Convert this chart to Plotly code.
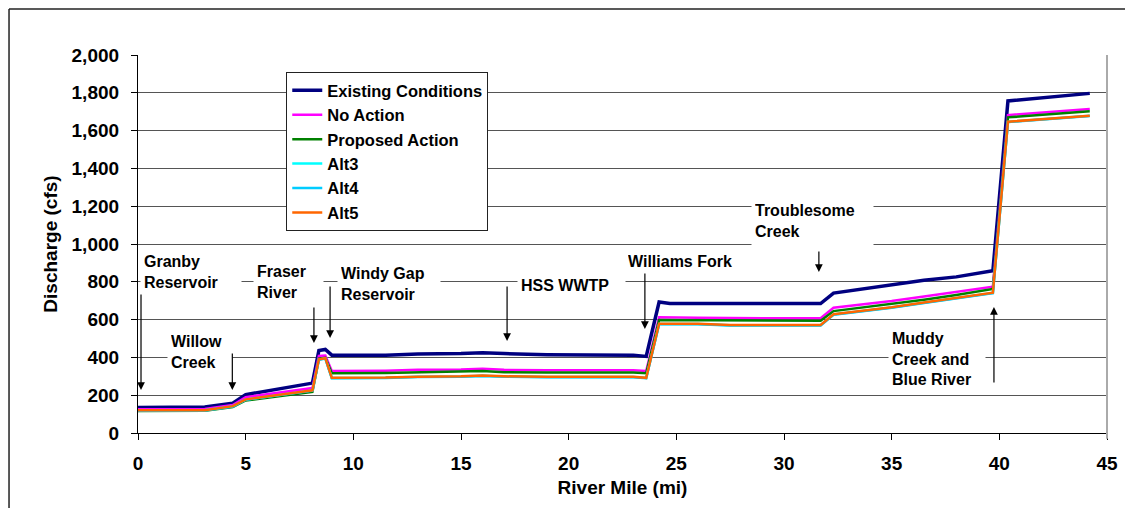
import plotly.graph_objects as go

# river mile stations
miles = [0, 3.1, 4.4, 5.0, 8.1, 8.4, 8.7, 9.0, 11.5, 13, 15, 16, 17, 19, 23, 23.6,
         24.2, 24.7, 26, 27.5, 31.7, 32.3, 35, 36.5, 38, 39.7, 40.4, 44.2]

existing = [135, 138, 158, 203, 264, 436, 442, 412, 412, 418, 420, 425, 420, 414, 412, 405,
            693, 685, 685, 685, 685, 740, 781, 808, 826, 858, 1757, 1797]
no_action = [126, 127, 148, 189, 238, 408, 410, 328, 330, 335, 336, 340, 334, 332, 332, 328,
             612, 612, 610, 608, 607, 663, 698, 722, 745, 774, 1682, 1714]
proposed = [117, 118, 138, 172, 218, 393, 398, 316, 318, 322, 324, 328, 322, 320, 320, 316,
            598, 598, 594, 594, 594, 645, 681, 705, 730, 762, 1670, 1702]
alt3 = [119, 120, 141, 177, 225, 389, 395, 291, 292, 297, 299, 303, 299, 296, 296, 291,
        577, 577, 577, 570, 570, 627, 664, 689, 714, 741, 1646, 1678]
alt4 = [118, 119, 140, 176, 224, 388, 394, 290, 291, 296, 298, 302, 298, 295, 295, 290,
        576, 576, 576, 569, 569, 626, 663, 688, 713, 740, 1645, 1677]
alt5 = [120, 121, 142, 178, 226, 390, 396, 292, 293, 298, 300, 304, 300, 297, 297, 292,
        578, 578, 578, 571, 571, 628, 665, 690, 715, 742, 1647, 1679]

series = [
    ("Existing Conditions", existing, "#000080", 3.5),
    ("No Action", no_action, "#FF00FF", 2.5),
    ("Proposed Action", proposed, "#008000", 2.5),
    ("Alt3", alt3, "#00FFFF", 2.5),
    ("Alt4", alt4, "#00CCFF", 2.5),
    ("Alt5", alt5, "#FF6600", 2.5),
]

# labels: text, left x, centre y, box width, box height
labels = [
    ("Granby<br>Reservoir", 0.09, 852, 94, 42),
    ("Willow<br>Creek", 1.35, 429, 58, 42),
    ("Fraser<br>River", 5.34, 799, 63, 42),
    ("Windy Gap<br>Reservoir", 9.24, 788, 96, 42),
    ("HSS WWTP", 17.6, 783, 101, 20),
    ("Williams Fork", 22.57, 910, 110, 20),
    ("Troublesome<br>Creek", 28.47, 1122, 115, 44),
    ("Muddy<br>Creek and<br>Blue River", 34.83, 392, 90, 60),
]

# arrows: x, head y, tail y
arrows = [
    (0.14, 227, 741),
    (4.38, 227, 429),
    (8.17, 476, 672),
    (8.92, 503, 783),
    (17.14, 487, 783),
    (23.54, 550, 852),
    (31.62, 852, 968),
    (39.75, 667, 259),
]

FONT = "Liberation Sans, Arial, sans-serif"

fig = go.Figure()
for i, (name, vals, color, w) in enumerate(series):
    fig.add_trace(go.Scatter(x=miles, y=vals, mode="lines", name=name,
                             legendgroup=str(i),
                             line=dict(color=color, width=w)))

for text, x, y, w, h in labels:
    fig.add_annotation(x=x, y=y, text=text, showarrow=False, xanchor="left", yanchor="middle",
                       align="left", width=w, height=h, bgcolor="white", borderpad=3,
                       font=dict(family=FONT, size=16, color="black", weight="bold"))

for x, head, tail in arrows:
    fig.add_annotation(x=x, y=head, ax=x, ay=tail, axref="x", ayref="y", text="",
                       showarrow=True, arrowhead=2, arrowsize=1.3, arrowwidth=1.2,
                       arrowcolor="black", standoff=0, startstandoff=0)

# outer chart frame (only left and top edges are in view) and grey plot-area right edge
fig.add_shape(type="line", xref="paper", yref="paper", x0=-0.1331, x1=-0.1331, y0=1.1217, y1=-0.3,
              line=dict(color="#222222", width=1.5))
fig.add_shape(type="line", xref="paper", yref="paper", x0=-0.1331, x1=1.05, y0=1.1217, y1=1.1217,
              line=dict(color="#222222", width=1.5))
fig.add_shape(type="line", xref="paper", yref="paper", x0=1, x1=1, y0=-0.015, y1=1,
              line=dict(color="#AAAAAA", width=2))

fig.update_layout(
    width=1133, height=508,
    margin=dict(l=130, r=34, t=47, b=83),
    paper_bgcolor="white", plot_bgcolor="white",
    font=dict(family=FONT, color="black", weight="bold"),
    legend=dict(x=0.153, y=0.955, xanchor="left", yanchor="top",
                bgcolor="white", bordercolor="#222222", borderwidth=1,
                font=dict(family=FONT, size=16.5, color="black", weight="bold"),
                tracegroupgap=4, traceorder="normal"),
)

fig.update_xaxes(range=[0, 45], dtick=5, tick0=0, showgrid=False, zeroline=False,
                 showline=True, linecolor="black", linewidth=1.2,
                 ticks="outside", ticklen=6, tickcolor="black",
                 ticklabelstandoff=7,
                 tickfont=dict(family=FONT, size=19, color="black", weight="bold"),
                 title=dict(text="River Mile (mi)", standoff=7,
                            font=dict(family=FONT, size=19, color="black", weight="bold")))
fig.update_yaxes(range=[0, 2000], dtick=200, tickformat=",d", showgrid=True,
                 gridcolor="#555555", gridwidth=1, zeroline=False,
                 showline=True, linecolor="black", linewidth=1.2,
                 ticks="outside", ticklen=6, tickcolor="black",
                 ticklabelstandoff=8,
                 tickfont=dict(family=FONT, size=19, color="black", weight="bold"),
                 title=dict(text="Discharge (cfs)", standoff=8,
                            font=dict(family=FONT, size=19, color="black", weight="bold")))

fig.write_html("out.html")
